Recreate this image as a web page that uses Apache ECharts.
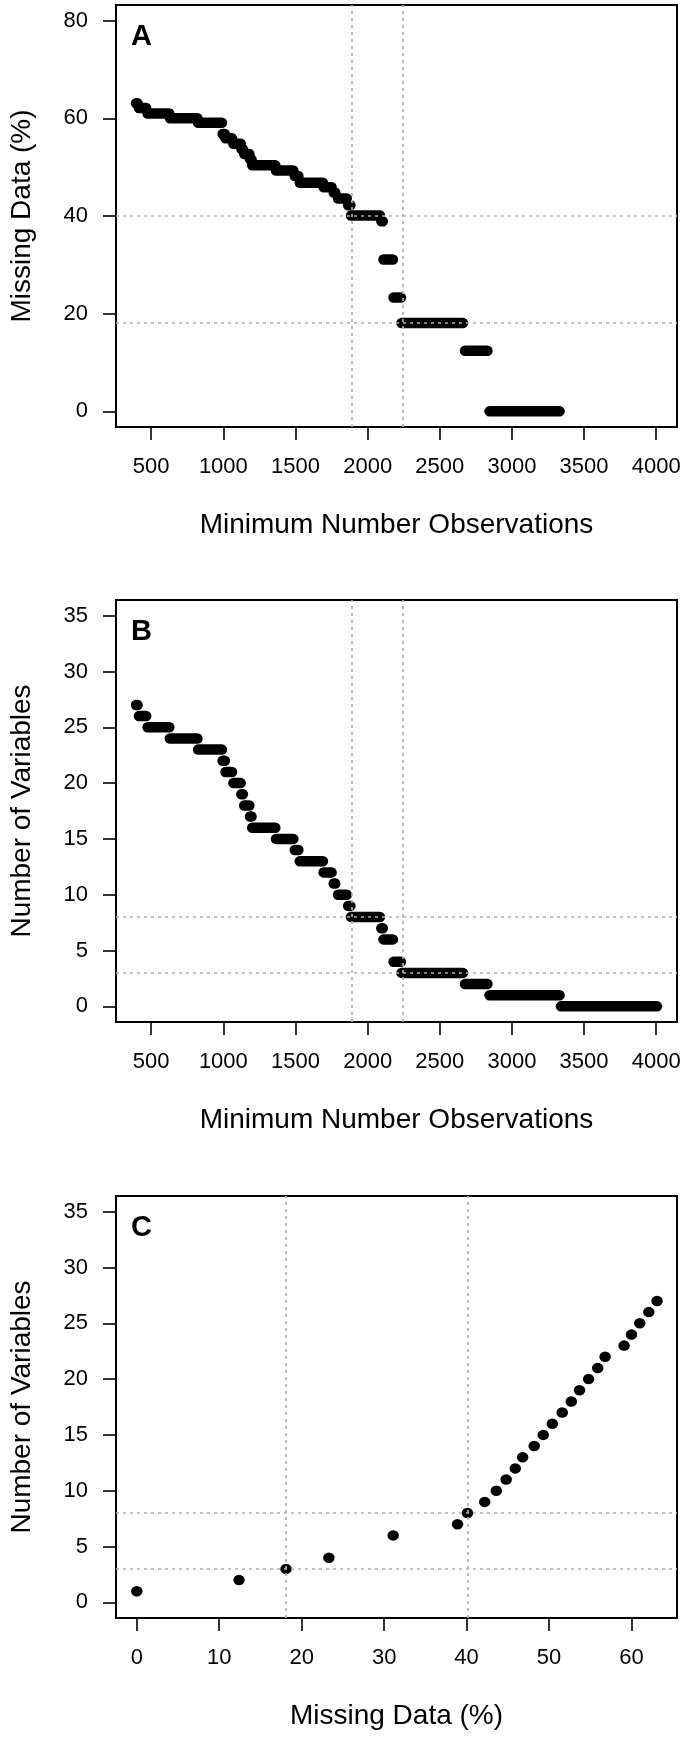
<!DOCTYPE html>
<html>
<head>
<meta charset="utf-8">
<script src="https://cdn.jsdelivr.net/npm/echarts@6/dist/echarts.min.js"></script>
<style>
html,body{margin:0;padding:0;background:#fff;}
#chart{width:685px;height:1738px;}
</style>
</head>
<body>
<div id="chart"></div>
<script>
// ---- data ----
const obsTicks = [500, 1000, 1500, 2000, 2500, 3000, 3500, 4000];
const missTicksY = [0, 20, 40, 60, 80];
const varTicks = [0, 5, 10, 15, 20, 25, 30, 35];
const missTicksX = [0, 10, 20, 30, 40, 50, 60];

// steps of the "minimum number of observations" threshold (first and last threshold of each step)
const stepStart = [400, 420, 480, 635, 830, 1000, 1020, 1075, 1130, 1150, 1190, 1205, 1370, 1500, 1535, 1700, 1770, 1800, 1870, 1890, 2100, 2115, 2185, 2240, 2680, 2850, 3345];
const stepEnd   = [400, 460, 620, 815, 985, 1005, 1055, 1115, 1130, 1175, 1190, 1355, 1480, 1515, 1685, 1745, 1770, 1850, 1875, 2080, 2100, 2170, 2225, 2655, 2825, 3325, 4000];
const stepVars  = [27, 26, 25, 24, 23, 22, 21, 20, 19, 18, 17, 16, 15, 14, 13, 12, 11, 10, 9, 8, 7, 6, 4, 3, 2, 1, 0];
const stepMissing = [63.1, 62.1, 61.0, 60.0, 59.1, 56.8, 55.9, 54.8, 53.7, 52.7, 51.6, 50.4, 49.3, 48.2, 46.8, 45.9, 44.8, 43.6, 42.2, 40.1, 38.9, 31.1, 23.3, 18.1, 12.4, 0.0, null];

// dotted reference lines
const obsCutoffs = [1890, 2240];
const missCutoffs = [40.1, 18.1];
const varCutoffs = [8, 3];

// ---- build ----
const FONT = 'Liberation Sans, Arial, Helvetica, sans-serif';
const G = {left: 115, width: 562, height: 422};
const tops = [5, 600, 1196];

const dataA = [], dataB = [], dataC = [];
for (let i = 0; i < stepStart.length; i++) {
  dataB.push([stepStart[i], stepEnd[i], stepVars[i]]);
  if (stepMissing[i] !== null) {
    dataA.push([stepStart[i], stepEnd[i], stepMissing[i]]);
    dataC.push([stepMissing[i], stepVars[i]]);
  }
}

const refLine = {
  silent: true, symbol: 'none', label: {show: false},
  lineStyle: {color: '#b0b0b0', type: [3, 4], width: 1.7},
  emphasis: {disabled: true}
};

function capsule(params, api) {
  const s = api.coord([api.value(0), api.value(2)]);
  const e = api.coord([api.value(1), api.value(2)]);
  const w = 12, h = 10.5;
  return {
    type: 'rect',
    shape: {x: s[0] - w / 2, y: s[1] - h / 2, width: e[0] - s[0] + w, height: h, r: h / 2},
    style: {fill: '#000'}
  };
}

const plain = v => String(v);

function xAxisCfg(idx, min, max, ticks, name) {
  return {
    type: 'value', gridIndex: idx, min: min, max: max,
    axisLine: {show: false, onZero: false},
    axisTick: {show: true, inside: false, length: 13, customValues: ticks, lineStyle: {color: '#000', width: 1.6}},
    axisLabel: {customValues: ticks, formatter: plain, fontSize: 22, color: '#000', fontFamily: FONT, margin: 29},
    splitLine: {show: false},
    name: name, nameLocation: 'middle', nameGap: 84,
    nameTextStyle: {fontSize: 28, color: '#000', fontFamily: FONT}
  };
}
function yAxisCfg(idx, min, max, ticks, name) {
  return {
    type: 'value', gridIndex: idx, min: min, max: max,
    axisLine: {show: false, onZero: false},
    axisTick: {show: true, inside: false, length: 13, customValues: ticks, lineStyle: {color: '#000', width: 1.6}},
    axisLabel: {customValues: ticks, formatter: plain, fontSize: 22, color: '#000', fontFamily: FONT, margin: 28},
    splitLine: {show: false},
    name: name, nameLocation: 'middle', nameGap: 80,
    nameTextStyle: {fontSize: 28, color: '#000', fontFamily: FONT}
  };
}

const chart = echarts.init(document.getElementById('chart'), null, {renderer: 'canvas'});
chart.setOption({
  animation: false,
  backgroundColor: '#fff',
  title: ['A', 'B', 'C'].map((t, i) => ({
    text: t, left: 126, top: tops[i] + 12,
    textStyle: {fontSize: 29, fontWeight: 'bold', color: '#000', fontFamily: FONT}
  })),
  grid: tops.map(t => ({left: G.left, top: t, width: G.width, height: G.height,
    show: true, borderColor: '#000', borderWidth: 2, backgroundColor: 'transparent'})),
  xAxis: [
    xAxisCfg(0, 256, 4144, obsTicks, 'Minimum Number Observations'),
    xAxisCfg(1, 256, 4144, obsTicks, 'Minimum Number Observations'),
    xAxisCfg(2, -2.52, 65.52, missTicksX, 'Missing Data (%)')
  ],
  yAxis: [
    yAxisCfg(0, -3.2, 83.2, missTicksY, 'Missing Data (%)'),
    yAxisCfg(1, -1.4, 36.4, varTicks, 'Number of Variables'),
    yAxisCfg(2, -1.4, 36.4, varTicks, 'Number of Variables')
  ],
  series: [
    {
      type: 'custom', xAxisIndex: 0, yAxisIndex: 0, renderItem: capsule,
      encode: {x: [0, 1], y: 2}, data: dataA, silent: true,
      markLine: Object.assign({}, refLine, {
        data: obsCutoffs.map(v => ({xAxis: v})).concat(missCutoffs.map(v => ({yAxis: v})))
      })
    },
    {
      type: 'custom', xAxisIndex: 1, yAxisIndex: 1, renderItem: capsule,
      encode: {x: [0, 1], y: 2}, data: dataB, silent: true,
      markLine: Object.assign({}, refLine, {
        data: obsCutoffs.map(v => ({xAxis: v})).concat(varCutoffs.map(v => ({yAxis: v})))
      })
    },
    {
      type: 'scatter', xAxisIndex: 2, yAxisIndex: 2, data: dataC,
      symbol: 'circle', symbolSize: [11.5, 10.5], itemStyle: {color: '#000', opacity: 1}, silent: true,
      markLine: Object.assign({}, refLine, {
        data: missCutoffs.map(v => ({xAxis: v})).concat(varCutoffs.map(v => ({yAxis: v})))
      })
    }
  ]
});
</script>
</body>
</html>
